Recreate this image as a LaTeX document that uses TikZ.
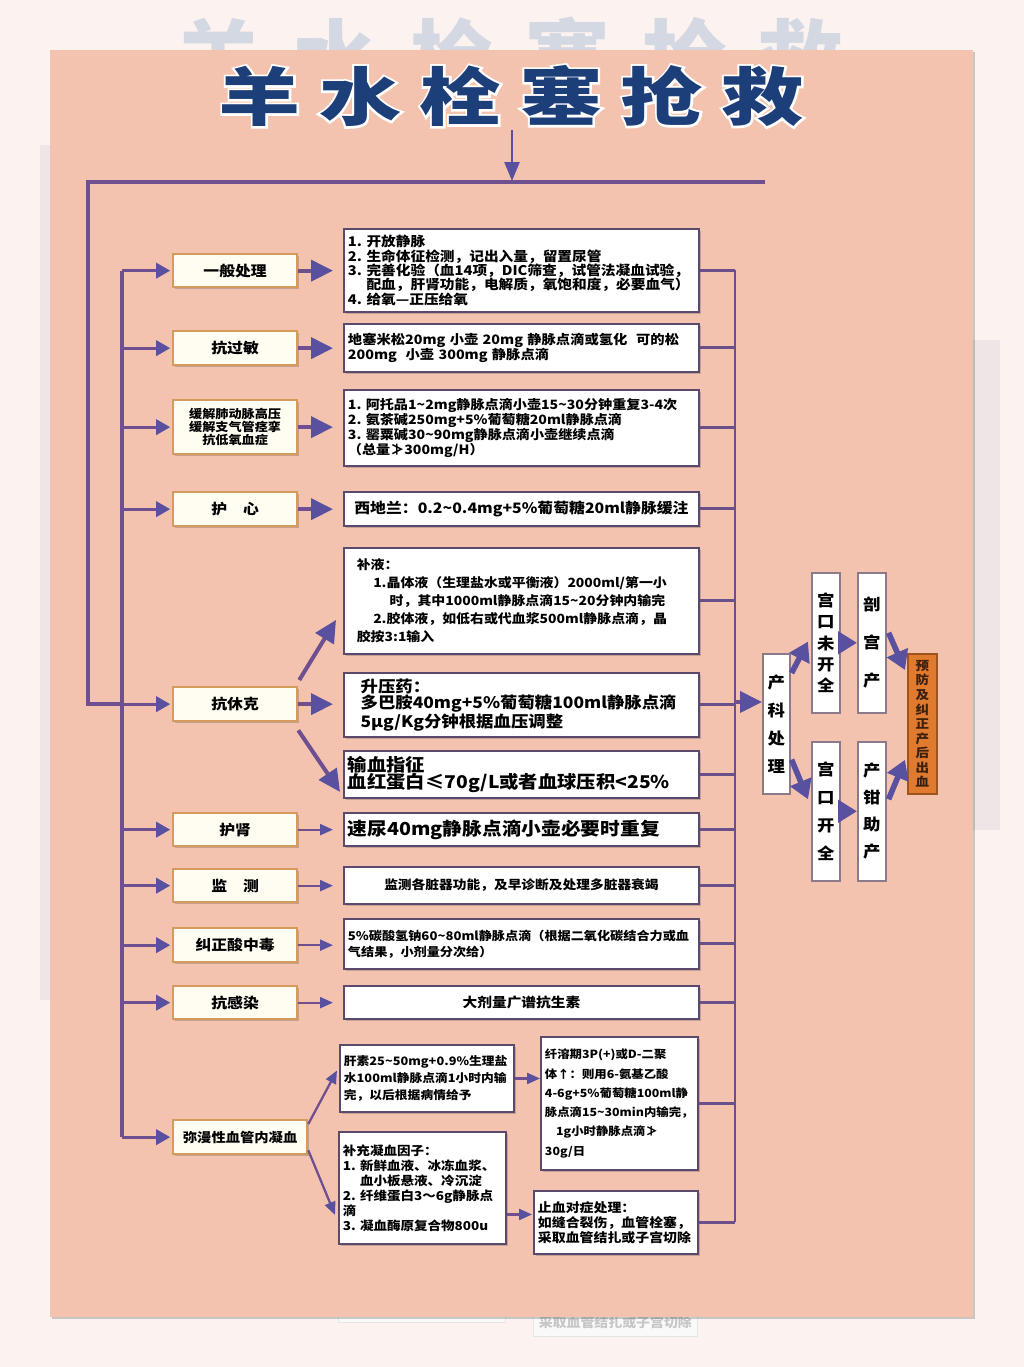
\documentclass[tikz,border=0pt]{standalone}
\usepackage{fontspec}
\setmainfont{Noto Sans CJK SC}
\newfontfamily\cjkw{Noto Sans CJK SC}[FakeStretch=1.1]
\newfontfamily\titlefont{Noto Sans CJK SC}[FakeStretch=1.3,LetterSpace=29]
\newfontfamily\titlehalo{Noto Sans CJK SC}[FakeStretch=1.3,LetterSpace=29,FakeBold=7]
\newfontfamily\ghostfont{Noto Sans CJK SC}[LetterSpace=38]
\usetikzlibrary{arrows.meta,shadows,calc}
\definecolor{pagebg}{HTML}{FCF3F0}
\definecolor{stripc}{HTML}{EEE6E6}
\definecolor{panel}{HTML}{F4C3AF}
\definecolor{navy}{HTML}{1C3F7A}
\definecolor{ln}{HTML}{6E4F8F}
\definecolor{ah}{HTML}{5A50A0}
\definecolor{busc}{HTML}{6B4F8B}
\definecolor{rbd}{HTML}{5C4A6C}
\definecolor{vbd}{HTML}{8A7A8A}
\definecolor{lbd}{HTML}{D49B5C}
\definecolor{lfill}{HTML}{FFFCF2}
\definecolor{org}{HTML}{E07A2E}
\definecolor{orgbd}{HTML}{9C5420}
\definecolor{orgtx}{HTML}{3B200E}
\definecolor{ghost}{HTML}{D3D8E3}
\newcommand\fs[2]{\fontsize{#1}{#2}\selectfont}
\newcommand\tl{\char"7E\relax}
\newcommand\lf{\cjkw\bfseries\fs{8.2pt}{9pt}}
\newcommand\mkbox[7]{%
  \pgfmathsetmacro\bw{(#5-#3)*0.02}%
  \pgfmathsetmacro\bh{(#6-#4)*0.02}%
  \pgfmathsetmacro\tw{(#5-#3)*0.02-0.16}%
  \node[#1, anchor=north west, text width=\tw cm, minimum height=\bh cm, inner xsep=0.08cm, inner ysep=0pt] (#2) at (#3,#4) {#7};}
\begin{document}
\begin{tikzpicture}[x=0.02cm,y=-0.02cm,
  sh/.style={drop shadow={opacity=0.28,shadow xshift=0.9pt,shadow yshift=-0.9pt,fill=black!70}},
  lbox/.style={draw=lbd,line width=1.3pt,fill=lfill,align=center,text=black,sh},
  rbox/.style={draw=rbd,line width=1.1pt,fill=white,align=left,text=black,sh},
  rboxc/.style={rbox,align=center},
  vbox/.style={draw=vbd,line width=0.9pt,fill=white,align=center,text=black,sh},
  obox/.style={draw=orgbd,line width=1pt,fill=org,align=center,text=orgtx,sh},
  bigarr/.style={draw=ln,line width=2.3pt,-{Triangle[length=0.44cm,width=0.42cm,color=ah]}},
  inarr/.style={draw=ln,line width=1.8pt,-{Triangle[length=0.28cm,width=0.30cm,color=ah]}},
  smarr/.style={draw=ln,line width=1.3pt,-{Triangle[length=0.26cm,width=0.22cm,color=ah]}},
  rarr/.style={draw=ah,line width=3.2pt,-{Triangle[length=0.38cm,width=0.44cm,color=ah]}},
  titarr/.style={draw=ah,line width=1.4pt,-{Triangle[length=0.38cm,width=0.30cm,color=ah]}},
  trunk/.style={draw=ln,line width=2.2pt},
  busline/.style={draw=busc,line width=1.7pt},
]
\useasboundingbox (0,0) rectangle (1024,1367);
\fill[pagebg] (0,0) rectangle (1024,1367);
\fill[stripc] (40,145) rectangle (50,1000);
\fill[stripc] (973,340) rectangle (1000,830);
% ghost title and reflections behind the panel
\node[font=\ghostfont\bfseries\fs{48pt}{48pt}, text=ghost, inner sep=0] (ghost) at (510,58) {羊水栓塞抢救};
\node[draw=gray!20, fill=white!95!gray, text=gray!45, anchor=north west, minimum width=3.28cm, minimum height=0.56cm, inner sep=0, font=\cjkw\bfseries\fs{7.2pt}{8pt}] (refA) at (533,1308) {采取血管结扎或子宫切除};
\node[draw=gray!20, fill=white!95!gray, anchor=north west, minimum width=3.34cm, minimum height=0.44cm, inner sep=0] (refB) at (338,1300) {};
% panel
\path[fill=panel, sh] (50,50) rectangle (973,1317);
% title with white halo
\node[font=\titlehalo\bfseries\fs{36pt}{36pt}, text=white, inner sep=0] (halo) at (511,96) {羊水栓塞抢救};
\node[font=\titlefont\bfseries\fs{36pt}{36pt}, text=navy, inner sep=0] (title) at (511,96) {羊水栓塞抢救};

% left boxes
\mkbox{lbox,font=\lf}{L1}{172}{253}{296}{286}{一般处理}
\mkbox{lbox,font=\lf}{L2}{172}{330}{296}{364}{抗过敏}
\mkbox{lbox,font=\cjkw\bfseries\fs{6.8pt}{7.4pt}}{L3}{172}{399}{296}{453}{缓解肺动脉高压\\缓解支气管痉挛\\抗低氧血症}
\mkbox{lbox,font=\lf}{L4}{172}{491}{296}{525}{护　心}
\mkbox{lbox,font=\lf}{L5}{172}{686}{296}{720}{抗休克}
\mkbox{lbox,font=\lf}{L6}{172}{812}{296}{845}{护肾}
\mkbox{lbox,font=\lf}{L7}{172}{868}{296}{901}{监　测}
\mkbox{lbox,font=\lf}{L8}{172}{927}{296}{961}{纠正酸中毒}
\mkbox{lbox,font=\lf}{L9}{172}{985}{296}{1018}{抗感染}
\mkbox{lbox,font=\cjkw\bfseries\fs{7.4pt}{8pt}}{L10}{172}{1119}{306}{1153}{弥漫性血管内凝血}

% right boxes
\mkbox{rbox,font=\cjkw\bfseries\fs{7.6pt}{8.2pt}}{B1}{343}{228}{698}{311}{1.\ 开放静脉\\2.\ 生命体征检测，记出入量，留置尿管\\3.\ 完善化验（血14项，DIC筛查，试管法凝血试验，\\\phantom{3.\ }配血，肝肾功能，电解质，氧饱和度，必要血气）\\4.\ 给氧—正压给氧}
\mkbox{rbox,font=\cjkw\bfseries\fs{7.4pt}{9pt}}{B2}{343}{323}{698}{371}{地塞米松20mg 小壶 20mg 静脉点滴或氢化\ \ 可的松\\200mg\ \ 小壶 300mg 静脉点滴}
\mkbox{rbox,font=\cjkw\bfseries\fs{7.3pt}{8.5pt}}{B3}{343}{389}{698}{465}{1.\ 阿托品1\tl2mg静脉点滴小壶15\tl30分钟重复3-4次\\2.\ 氨茶碱250mg+5\%葡萄糖20ml静脉点滴\\3.\ 罂粟碱30\tl90mg静脉点滴小壶继续点滴\\（总量≯300mg/H）}
\mkbox{rboxc,font=\cjkw\bfseries\fs{8.2pt}{9pt}}{B4}{343}{491}{698}{525}{西地兰：0.2\tl0.4mg+5\%葡萄糖20ml静脉缓注}
\mkbox{rbox,font=\cjkw\bfseries\fs{7.2pt}{10.2pt}}{B5}{343}{547}{698}{653}{\hspace*{0.7em}补液：\\\hspace*{2em}1.晶体液（生理盐水或平衡液）2000ml/第一小\\\hspace*{3.3em}时，其中1000ml静脉点滴15\tl20分钟内输完\\\hspace*{2em}2.胶体液，如低右或代血浆500ml静脉点滴，晶\\\hspace*{0.7em}胶按3:1输入}
\mkbox{rbox,font=\cjkw\bfseries\fs{9pt}{9.4pt}}{B6}{343}{672}{698}{736}{\hspace*{0.8em}升压药：\\\hspace*{0.8em}多巴胺40mg+5\%葡萄糖100ml静脉点滴\\\hspace*{0.8em}5μg/Kg分钟根据血压调整}
\mkbox{rbox,font=\cjkw\bfseries\fs{10pt}{10.2pt}}{B7}{343}{750}{698}{797}{输血指征\\血红蛋白≤70g/L或者血球压积<25\%}
\mkbox{rbox,font=\cjkw\bfseries\fs{10.2pt}{11pt}}{B8}{343}{812}{698}{845}{速尿40mg静脉点滴小壶必要时重复}
\mkbox{rboxc,font=\cjkw\bfseries\fs{7.1pt}{8pt}}{B9}{343}{866}{698}{903}{监测各脏器功能，及早诊断及处理多脏器衰竭}
\mkbox{rbox,font=\cjkw\bfseries\fs{6.8pt}{9pt}}{B10}{343}{918}{698}{968}{5\%碳酸氢钠60\tl80ml静脉点滴（根据二氧化碳结合力或血\\气结果，小剂量分次给）}
\mkbox{rboxc,font=\cjkw\bfseries\fs{7.6pt}{8.4pt}}{B11}{343}{985}{698}{1018}{大剂量广谱抗生素}
\mkbox{rbox,font=\cjkw\bfseries\fs{6.6pt}{9.6pt}}{B12}{339}{1044}{513}{1111}{肝素25\tl50mg+0.9\%生理盐\\水100ml静脉点滴1小时内输\\完，以后根据病情给予}
\mkbox{rbox,font=\cjkw\bfseries\fs{7pt}{8.5pt}}{B13}{338}{1131}{505}{1243}{补充凝血因子：\\1.\ 新鲜血液、冰冻血浆、\\\phantom{1.\ }血小板悬液、冷沉淀\\2.\ 纤维蛋白3～6g静脉点\\滴\\3.\ 凝血酶原复合物800u}
\mkbox{rbox,font=\cjkw\bfseries\fs{6.4pt}{11pt}}{B14}{540}{1036}{697}{1169}{纤溶期3P(+)或D-二聚\\体↑：则用6-氨基乙酸\\\mbox{4-6g+5\%葡萄糖100ml静}\\脉点滴15\tl30min内输完，\\\hspace*{1em}1g小时静脉点滴≯\\30g/日}
\mkbox{rbox,font=\cjkw\bfseries\fs{7.2pt}{8.6pt}}{B15}{533}{1190}{697}{1253}{止血对症处理：\\如缝合裂伤，血管栓塞，\\采取血管结扎或子宫切除}

% obstetric column
\mkbox{vbox,font=\cjkw\bfseries\fs{9pt}{15.9pt}}{pk}{762}{653}{789}{793}{产\\科\\处\\理}
\mkbox{vbox,font=\cjkw\bfseries\fs{9pt}{12.2pt}}{gw}{811}{572}{839}{712}{宫\\口\\未\\开\\全}
\mkbox{vbox,font=\cjkw\bfseries\fs{9pt}{21.5pt}}{pg}{857}{572}{885}{712}{剖\\宫\\产}
\mkbox{vbox,font=\cjkw\bfseries\fs{9pt}{15.9pt}}{gk}{811}{741}{839}{880}{宫\\口\\开\\全}
\mkbox{vbox,font=\cjkw\bfseries\fs{9pt}{15.3pt}}{qc}{857}{741}{885}{880}{产\\钳\\助\\产}
\mkbox{obox,font=\cjkw\bfseries\fs{7pt}{8.3pt}}{yf}{907}{653}{936}{793}{预\\防\\及\\纠\\正\\产\\后\\出\\血}

% trunk lines
\coordinate (titA) at (512,130);
\coordinate (topJ) at (512,181);
\coordinate (topL) at (88,182);
\coordinate (topR) at (765,182);
\coordinate (ib) at (122,0);
\coordinate (bus) at (735,0);
\draw[trunk] (topR) -- (topL) -- (topL |- L5.west) -- (L5.west -| ib);
\draw[titarr] (titA) -- (topJ);
\draw[trunk] (L1.west -| ib) -- (L10.west -| ib);
\foreach \n in {L1,L2,L3,L4,L5,L6,L7,L8,L9,L10}
  \draw[inarr, shorten >=1pt] (\n.west -| ib) -- (\n.west);

% left -> right
\foreach \a/\b in {L1/B1,L2/B2,L3/B3,L4/B4,L5/B6}
  \draw[bigarr, shorten >=0.2cm] (\a.east) -- (\a.east -| \b.west);
\foreach \a/\b in {L6/B8,L7/B9,L8/B10,L9/B11}
  \draw[smarr, shorten >=0.2cm] (\a.east) -- (\a.east -| \b.west);
\draw[bigarr] ($(L5.north east)+(1,-6)$) -- ($(B5.south west)+(-7,-35)$);
\draw[bigarr] ($(L5.south east)+(0,8)$) -- ($(B7.south west)+(-3,-7)$);
\draw[smarr] ($(L10.north east)+(0,5)$) -- ($(B12.west)+(-2,-8)$);
\draw[smarr] ($(L10.south east)+(0,-5)$) -- ($(B13.south west)+(-3,-30)$);
\draw[smarr] (B12.east) -- (B12.east -| B14.west);
\draw[smarr] ($(B15.west -| B13.east)+(0,-8)$) -- ($(B15.west)+(-1,-8)$);

% bus on the right
\draw[busline] (B1.east -| bus) -- (B15.east -| bus);
\foreach \b in {B1,B2,B3,B4,B5,B6,B7,B8,B9,B10,B11,B14,B15}
  \draw[busline] (\b.east) -- (\b.east -| bus);
\coordinate (busM) at (735,702);
\draw[bigarr] (busM) -- (pk.west |- busM);

% obstetric arrows
\draw[rarr] ($(pk.north east)+(1,20)$) -- ($(gw.south west)+(-3,-72)$);
\draw[rarr] (gw.east) -- (pg.west);
\draw[rarr] ($(pg.east)+(2,-10)$) -- ($(yf.north west)+(-2,17)$);
\draw[rarr] ($(pk.south east)+(1,-35)$) -- ($(gk.west)+(-3,-12)$);
\draw[rarr] (gk.east) -- (qc.west);
\draw[rarr] ($(qc.east)+(2,-12)$) -- ($(yf.south west)+(-2,-35)$);
\end{tikzpicture}
\end{document}
